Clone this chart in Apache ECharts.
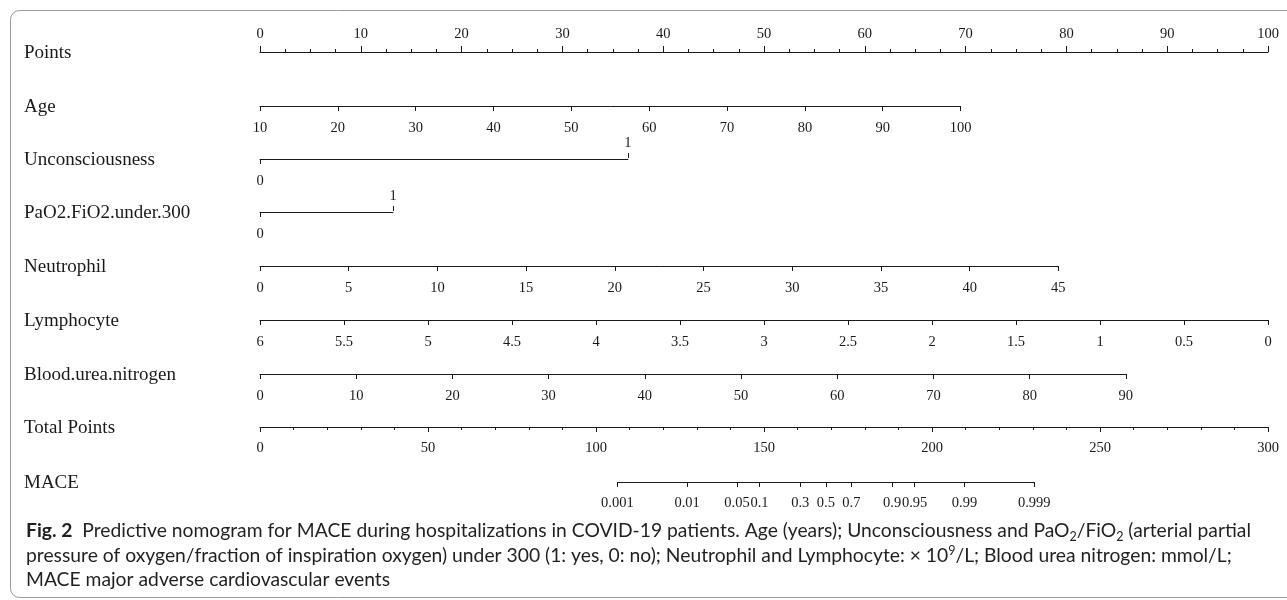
<!DOCTYPE html>
<html>
<head>
<meta charset="utf-8">
<script src="https://cdn.jsdelivr.net/npm/echarts@6/dist/echarts.min.js"></script>
<style>
html,body{margin:0;padding:0;background:#fff;}
#main{width:1287px;height:600px;}
</style>
</head>
<body>
<div id="main"></div>
<script>
// ---------------- DATA ----------------
const rowNames = ['Points', 'Age', 'Unconsciousness', 'PaO2.FiO2.under.300', 'Neutrophil',
  'Lymphocyte', 'Blood.urea.nitrogen', 'Total Points', 'MACE'];

const pointsRange = [0, 100];
const totalPointsRange = [0, 300];

// variable value range and the points each end of the range is worth
const ageRange = [10, 100];            const agePoints = [0, 69.5];
const unconsciousnessRange = [0, 1];   const unconsciousnessPoints = [0, 36.5];
const pao2Range = [0, 1];              const pao2Points = [0, 13.2];
const neutrophilRange = [0, 45];       const neutrophilPoints = [0, 79.2];
const lymphocyteRange = [6, 0];        const lymphocytePoints = [0, 100];
const bunRange = [0, 90];              const bunPoints = [0, 85.9];

// MACE probability scale
const maceProbs  = [0.001, 0.01, 0.05, 0.1, 0.3, 0.5, 0.7, 0.9, 0.95, 0.99, 0.999];
const maceLabels = ['0.001', '0.01', '0.05', '0.1', '0.3', '0.5', '0.7', '0.9', '0.95', '0.99', '0.999'];
const maceTotalAtHalf = 168.4;     // total points where probability = 0.5
const maceTotalPerLogit = 8.98;    // total points per unit of log-odds

const captionLines = [
  '{b|Fig. 2}  Predictive nomogram for MACE during hospitalizations in COVID-19 patients. Age (years); Unconsciousness and PaO{s|2}/FiO{s|2} (arterial partial',
  'pressure of oxygen/fraction of inspiration oxygen) under 300 (1: yes, 0: no); Neutrophil and Lymphocyte: \u00d7 10{p|9}/L; Blood urea nitrogen: mmol/L;',
  'MACE major adverse cardiovascular events'
];

// ---------------- LAYOUT ----------------
const AXIS_LEFT = 260, AXIS_RIGHT = 1268;
const rowY = [52, 106, 159, 212, 266, 320, 374, 427, 482];
const LABEL_X = 24;
const INK = '#1a1a1a';
const SERIF = '"Liberation Serif", "Times New Roman", serif';
const SANS = 'Lato, "Open Sans", sans-serif';

const logit = p => Math.log(p / (1 - p));
const pxPoints = p => AXIS_LEFT + (p - pointsRange[0]) / (pointsRange[1] - pointsRange[0]) * (AXIS_RIGHT - AXIS_LEFT);
const pxTotal = t => AXIS_LEFT + (t - totalPointsRange[0]) / (totalPointsRange[1] - totalPointsRange[0]) * (AXIS_RIGHT - AXIS_LEFT);

const grids = [], xAxes = [], yAxes = [];

function addGrid(left, right, lineY, pos) {
  grids.push({
    left: left, width: right - left,
    top: pos === 'top' ? lineY : lineY - 1, height: 1,
    containLabel: false, outerBoundsMode: 'none'
  });
  const gi = grids.length - 1;
  yAxes.push({ gridIndex: gi, show: false, min: 0, max: 1 });
  return gi;
}

function baseAxis(gi, pos, extra) {
  const ax = {
    type: 'value', gridIndex: gi, position: pos,
    axisLine: { show: true, onZero: false, lineStyle: { color: INK, width: 1 } },
    axisTick: { show: true, length: 5, lineStyle: { color: INK, width: 1 } },
    axisLabel: { color: INK, fontFamily: SERIF, fontSize: 14.5, margin: 14 },
    splitLine: { show: false },
    minorSplitLine: { show: false }
  };
  return Object.assign(ax, extra || {}, {
    axisLine: Object.assign(ax.axisLine, (extra && extra.axisLine) || {}),
    axisTick: Object.assign(ax.axisTick, (extra && extra.axisTick) || {}),
    axisLabel: Object.assign(ax.axisLabel, (extra && extra.axisLabel) || {})
  });
}

// Points row
{
  const gi = addGrid(pxPoints(pointsRange[0]), pxPoints(pointsRange[1]), rowY[0], 'top');
  xAxes.push(baseAxis(gi, 'top', {
    min: pointsRange[0], max: pointsRange[1], interval: 10,
    axisTick: { length: 6 },
    axisLabel: { margin: 10 },
    minorTick: { show: true, splitNumber: 4, length: 3, lineStyle: { color: INK, width: 1 } }
  }));
}

// continuous variable rows
function continuousRow(rowIdx, range, pts, interval) {
  const gi = addGrid(pxPoints(pts[0]), pxPoints(pts[1]), rowY[rowIdx], 'bottom');
  const inverse = range[0] > range[1];
  xAxes.push(baseAxis(gi, 'bottom', {
    min: Math.min(range[0], range[1]), max: Math.max(range[0], range[1]),
    interval: interval, inverse: inverse,
    axisLabel: { margin: 15 }
  }));
}

// binary variable rows: 0 below the line, 1 above it
function binaryRow(rowIdx, range, pts) {
  const gi = addGrid(pxPoints(pts[0]), pxPoints(pts[1]), rowY[rowIdx], 'bottom');
  xAxes.push(baseAxis(gi, 'bottom', {
    min: range[0], max: range[1],
    axisTick: { customValues: [range[0]] },
    axisLabel: { customValues: [range[0]], margin: 15 }
  }));
  xAxes.push(baseAxis(gi, 'top', {
    min: range[0], max: range[1],
    axisLine: { show: false },
    axisTick: { customValues: [range[1]] },
    axisLabel: { customValues: [range[1]], margin: 7 }
  }));
}

continuousRow(1, ageRange, agePoints, 10);
binaryRow(2, unconsciousnessRange, unconsciousnessPoints);
binaryRow(3, pao2Range, pao2Points);
continuousRow(4, neutrophilRange, neutrophilPoints, 5);
continuousRow(5, lymphocyteRange, lymphocytePoints, 0.5);
continuousRow(6, bunRange, bunPoints, 10);

// Total points row
{
  const gi = addGrid(pxTotal(totalPointsRange[0]), pxTotal(totalPointsRange[1]), rowY[7], 'bottom');
  xAxes.push(baseAxis(gi, 'bottom', {
    min: totalPointsRange[0], max: totalPointsRange[1], interval: 50,
    minorTick: { show: true, splitNumber: 5, length: 3, lineStyle: { color: INK, width: 1 } },
    axisLabel: { margin: 14 }
  }));
}

// MACE row (log-odds axis, labelled in probabilities)
{
  const maceLogits = maceProbs.map(logit);
  const lo = maceLogits[0], hi = maceLogits[maceLogits.length - 1];
  const gi = addGrid(pxTotal(maceTotalAtHalf + maceTotalPerLogit * lo),
                     pxTotal(maceTotalAtHalf + maceTotalPerLogit * hi), rowY[8], 'bottom');
  xAxes.push(baseAxis(gi, 'bottom', {
    min: lo, max: hi,
    axisTick: { customValues: maceLogits },
    axisLabel: {
      customValues: maceLogits, margin: 14, hideOverlap: false,
      formatter: v => {
        let best = 0;
        maceLogits.forEach((l, i) => { if (Math.abs(l - v) < Math.abs(maceLogits[best] - v)) best = i; });
        return maceLabels[best];
      }
    }
  }));
}

// ---------------- GRAPHICS (row titles, caption, frame) ----------------
const graphic = [];
graphic.push({
  type: 'rect', silent: true,
  shape: { x: 10.5, y: 10.5, width: 1330, height: 587, r: 9 },
  style: { fill: 'none', stroke: '#9a9a9a', lineWidth: 1 }
});
rowNames.forEach((n, i) => {
  graphic.push({
    type: 'text', x: LABEL_X, y: rowY[i] + 1,
    style: { text: n, fill: INK, font: '19px ' + SERIF, verticalAlign: 'middle', align: 'left' }
  });
});
const captionY = [531, 556, 580];
const CAP = 19.3;
captionLines.forEach((t, i) => {
  graphic.push({
    type: 'text', x: 26, y: captionY[i],
    style: {
      text: t, fill: '#231f20', fontFamily: SANS, fontSize: CAP, verticalAlign: 'middle', align: 'left',
      lineHeight: 24,
      rich: {
        b: { fontFamily: SANS, fontWeight: 'bold', fontSize: CAP, fill: '#231f20', lineHeight: 24 },
        s: { fontFamily: SANS, fontSize: 12.5, fill: '#231f20', verticalAlign: 'bottom', lineHeight: 24 },
        p: { fontFamily: SANS, fontSize: 12.5, fill: '#231f20', verticalAlign: 'top', lineHeight: 24 }
      }
    }
  });
});

const chart = echarts.init(document.getElementById('main'), null, { renderer: 'canvas' });
chart.setOption({
  backgroundColor: '#ffffff',
  animation: false,
  grid: grids,
  xAxis: xAxes,
  yAxis: yAxes,
  series: [],
  graphic: graphic
});
</script>
</body>
</html>
